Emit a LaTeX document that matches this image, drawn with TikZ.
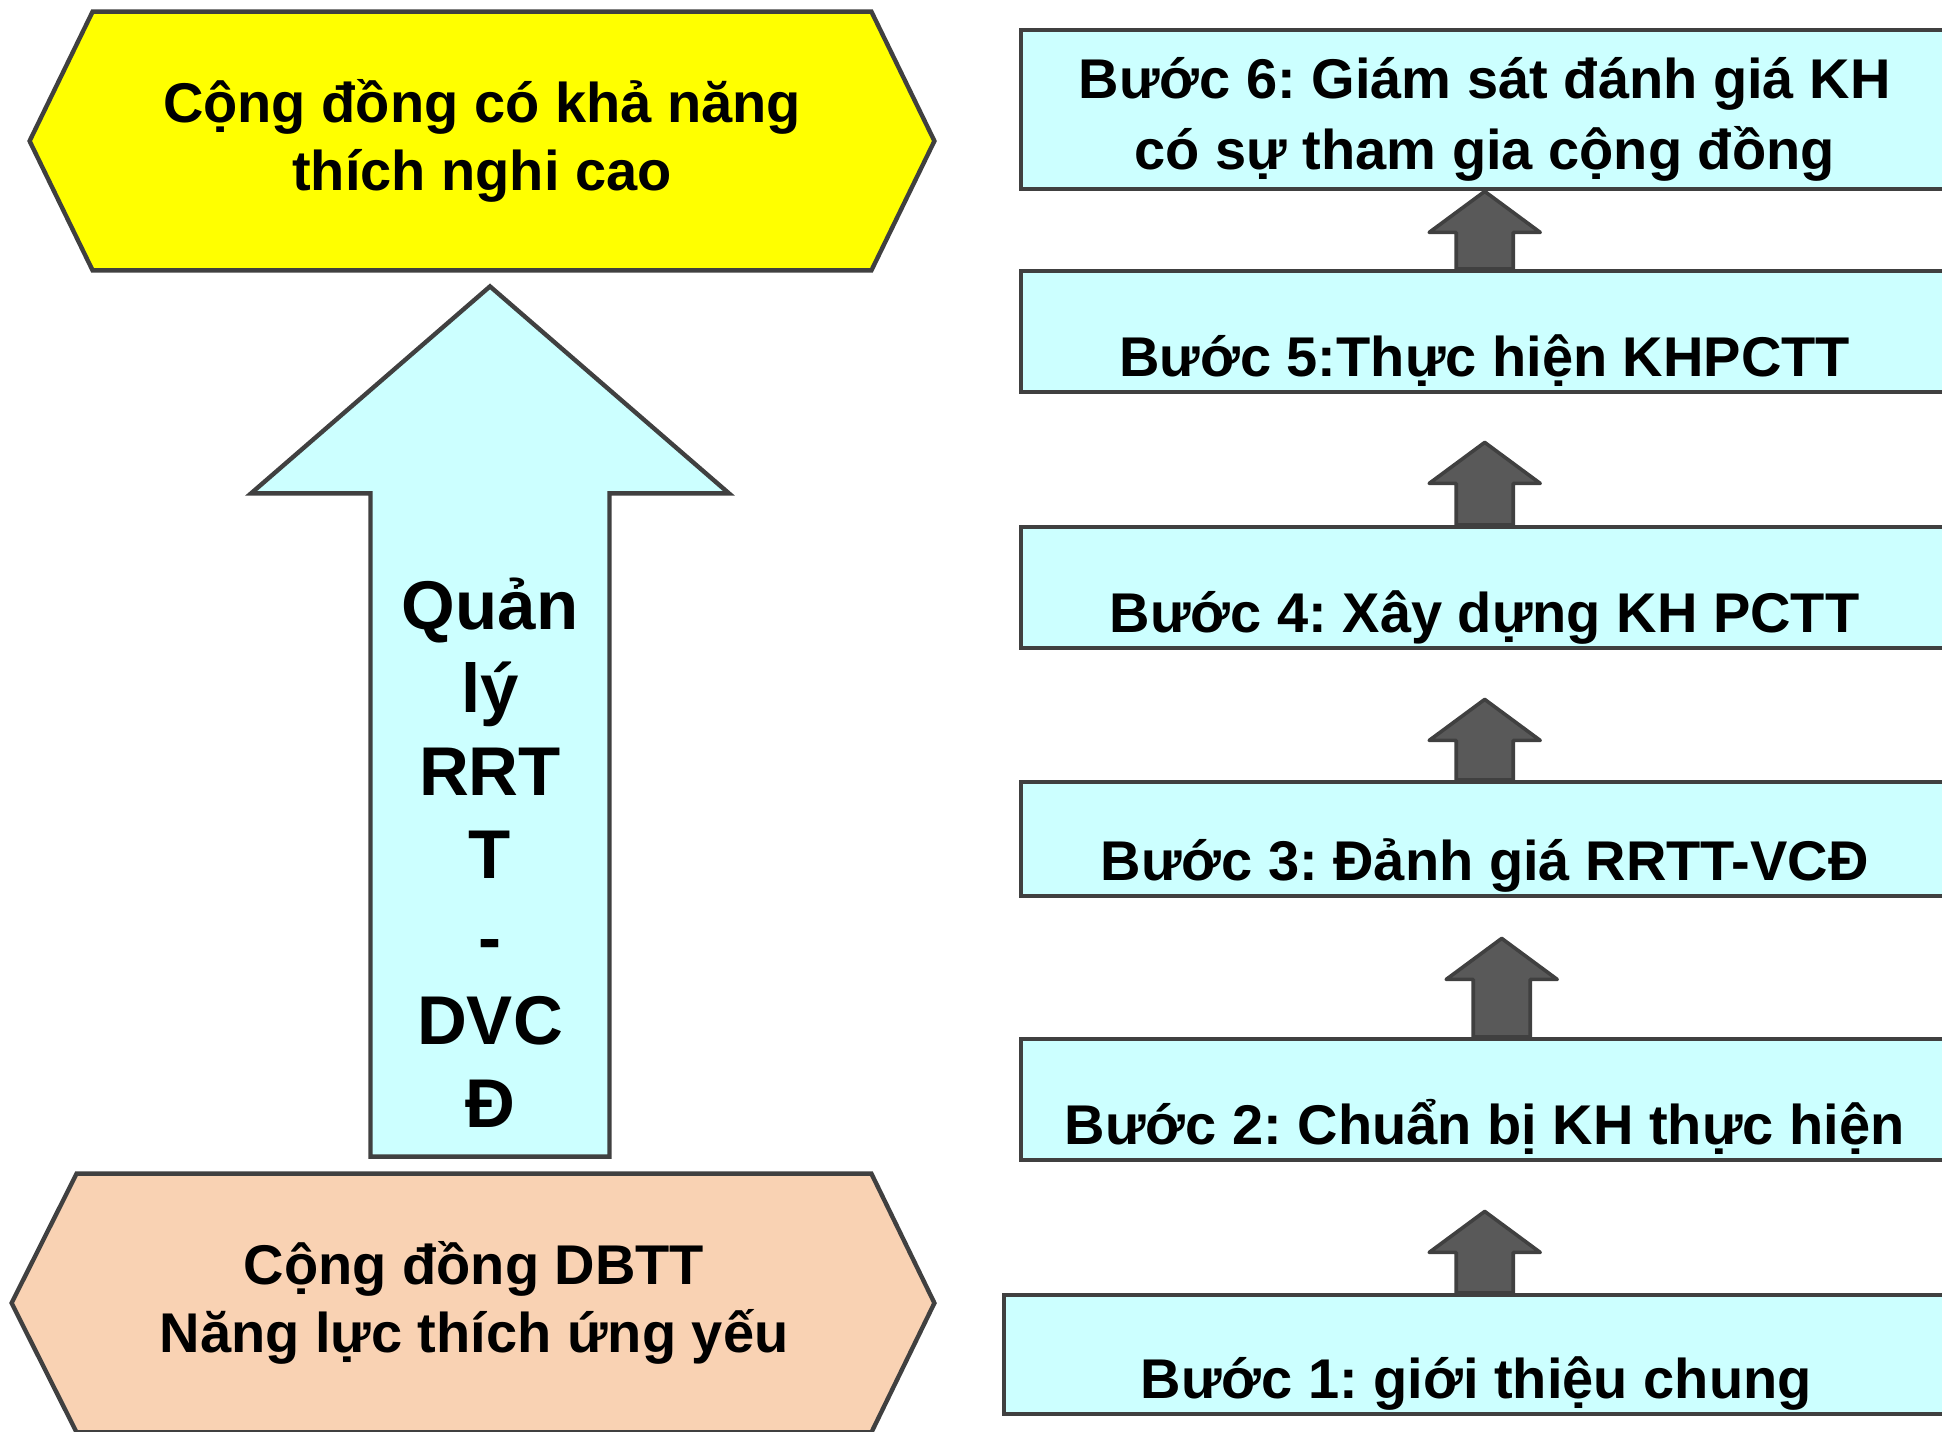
\documentclass[tikz,border=0pt]{standalone}
\usepackage{fontspec}
\setmainfont{Liberation Sans}
\usepackage{tikz}
\usetikzlibrary{calc, backgrounds}
\definecolor{edge}{HTML}{404040}
\definecolor{stepfill}{HTML}{CCFFFF}
\definecolor{goalfill}{HTML}{FFFF00}
\definecolor{basefill}{HTML}{F9D2B3}
\definecolor{arrowfill}{HTML}{595959}
\frenchspacing

\tikzset{
  % block arrow from start (tail) to target (tip): shaft half, head half, head length
  blockarrow/.style n args={3}{to path={
      ($(\tikztostart)+(-#1,0)$) -- ($(\tikztotarget)+(-#1,#3)$)
      -- ($(\tikztotarget)+(-#2,#3)$) -- (\tikztotarget)
      -- ($(\tikztotarget)+(#2,#3)$) -- ($(\tikztotarget)+(#1,#3)$)
      -- ($(\tikztostart)+(#1,0)$) -- cycle}},
  stepbox/.style={draw=edge, fill=stepfill, line width=2.2pt, inner sep=0pt,
    anchor=north west, minimum width=463.5pt, text depth=8pt,
    font=\fontsize{28}{35}\selectfont\bfseries},
  hexbox/.style={inner sep=0pt, align=center, minimum height=129pt,
    font=\fontsize{28}{34}\selectfont\bfseries},
  hexline/.style={draw=edge, line width=2.2pt},
  steparrow/.style={draw=edge, fill=arrowfill, line width=1.8pt, line join=round,
    blockarrow={28.5}{55.5}{41}},
  bigarrow/.style={draw=edge, fill=stepfill, line width=2.2pt,
    blockarrow={119.5}{239}{207}}
}

\begin{document}
\begin{tikzpicture}[x=0.5pt, y=-0.5pt]
  \useasboundingbox (0,0) rectangle (1942,1431);

  % left column
  \node[hexbox, minimum width=389pt] (goal) at (482,141)
    {Cộng đồng có khả năng\\thích nghi cao};
  \node[hexbox, minimum width=397pt] (base) at (474,1303)
    {Cộng đồng DBTT\\Năng lực thích ứng yếu};
  \node[align=center, inner sep=0pt,
        font=\fontsize{34.5}{41.5}\selectfont\bfseries] (mgmt) at (490,853)
    {Quản\\lý\\RRT\\T\\-\\DVC\\Đ};

  \begin{scope}[on background layer]
    \draw[hexline, fill=goalfill] (goal.north west) -- (goal.north east)
      -- ($(goal.east)+(63,0)$) -- (goal.south east) -- (goal.south west)
      -- ($(goal.west)+(-63,0)$) -- cycle;
    \draw[hexline, fill=basefill] (base.north west) -- (base.north east)
      -- ($(base.east)+(63,0)$) -- (base.south east) -- (base.south west)
      -- ($(base.west)+(-65,0)$) -- cycle;
    \draw[bigarrow] ($(mgmt |- base.north)+(0,-17)$) to ($(mgmt |- goal.south)+(0,16)$);
  \end{scope}

  % steps
  \node[stepbox, minimum height=79.5pt, text depth=, align=center,
        font=\fontsize{28}{35.5}\selectfont\bfseries] (s6) at (1019,28)
    {\rule{0pt}{30pt}Bước 6: Giám sát đánh giá KH\\có sự tham gia cộng đồng};
  \node[stepbox, text height=52.5pt] (s5) at (1019,269) {Bước 5:Thực hiện KHPCTT};
  \node[stepbox, text height=52.5pt] (s4) at (1019,525) {Bước 4: Xây dựng KH PCTT};
  \node[stepbox, text height=49pt] (s3) at (1019,780) {Bước 3: Đảnh giá RRTT-VCĐ};
  \node[stepbox, text height=52.5pt] (s2) at (1019,1037) {Bước 2: Chuẩn bị KH thực hiện};
  \node[stepbox, text height=51.5pt, minimum width=472pt] (s1) at (1002,1293)
    {Bước 1: giới thiệu chung};

  \draw[steparrow] (s5.north) to (s6.south);
  \draw[steparrow] (s4.north) to ($(s5.south)+(0,48)$);
  \draw[steparrow] (s3.north) to ($(s4.south)+(0,49)$);
  \draw[steparrow] ($(s2.north)+(17,0)$) to ($(s3.south)+(17,40)$);
  \draw[steparrow] (s1.north -| s2.south) to ($(s2.south)+(0,49)$);
\end{tikzpicture}
\end{document}
